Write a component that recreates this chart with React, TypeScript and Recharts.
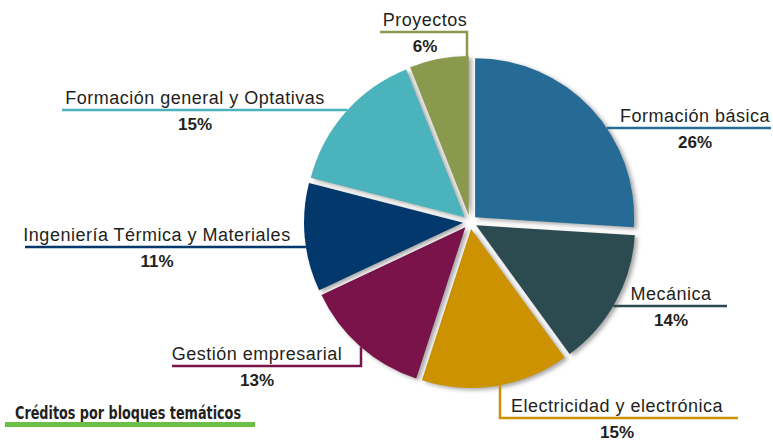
import React from "react";
import { PieChart, Pie, Cell } from "recharts";

const categories = [
  "Formación básica",
  "Mecánica",
  "Electricidad y electrónica",
  "Gestión empresarial",
  "Ingeniería Térmica y Materiales",
  "Formación general y Optativas",
  "Proyectos",
];
const shares = [26, 14, 15, 13, 11, 15, 6];
const colors = ["#266b95", "#2c4b51", "#cc9200", "#7a1349", "#02386c", "#4bb3bb", "#8b994e"];

const data = categories.map((name, i) => ({ name, value: shares[i] }));

const CX = 470;
const CY = 222;
const R = 159;
const EXPLODE = 7;
const RADIAN = Math.PI / 180;

// callout layout: "h" = straight horizontal leader, "v" = vertical then horizontal
const callouts: any[] = [
  { kind: "h", y: 128, end: 771, tx: 695 },
  { kind: "h", y: 306, end: 727, tx: 671 },
  { kind: "v", x: 500, y: 418, end: 738, tx: 617 },
  { kind: "v", x: 361, y: 366, end: 172, tx: 257 },
  { kind: "h", y: 247, end: 25, tx: 157 },
  { kind: "h", y: 110, end: 62, tx: 195 },
  { kind: "v", x: 467, y: 32, end: 380, tx: 425, top: true },
];

const total = shares.reduce((a, b) => a + b, 0);
const midAngles = shares.map((v, i) => {
  const before = shares.slice(0, i).reduce((a, b) => a + b, 0);
  return 90 - (360 * (before + v / 2)) / total;
});

const renderCallout = (slice: number) => (props: any) => {
  if (props.index !== slice) return null;
  const { cx, cy, outerRadius } = props;
  const c = callouts[slice];
  const color = colors[slice];
  let points = "";
  if (c.kind === "h") {
    const dx = Math.sqrt(Math.max(0, outerRadius * outerRadius - (c.y - cy) * (c.y - cy)));
    const x0 = c.end > cx ? cx + dx : cx - dx;
    points = `${x0},${c.y} ${c.end},${c.y}`;
  } else {
    const dy = Math.sqrt(Math.max(0, outerRadius * outerRadius - (c.x - cx) * (c.x - cx)));
    const y0 = c.top ? cy - dy : cy + dy;
    points = `${c.x},${y0} ${c.x},${c.y} ${c.end},${c.y}`;
  }
  return (
    <g>
      <polyline points={points} fill="none" stroke={color} strokeWidth={2.5} />
      <text
        x={c.tx}
        y={c.y - 6}
        textAnchor="middle"
        fontFamily="Liberation Sans, Arial, sans-serif"
        fontSize={18}
        letterSpacing={0.5}
        fill="#231f20"
      >
        {categories[slice]}
      </text>
      <text
        x={c.tx}
        y={c.y + 20}
        textAnchor="middle"
        fontFamily="Liberation Sans, Arial, sans-serif"
        fontSize={17}
        fontWeight="bold"
        fill="#231f20"
      >
        {shares[slice]}%
      </text>
    </g>
  );
};

export default function App() {
  return (
    <div style={{ position: "absolute", left: 0, top: 0, width: 773, height: 440, background: "#fff" }}>
      <style>{`.recharts-pie-sector path { filter: drop-shadow(3px 2px 2px rgba(0,0,0,0.35)); }`}</style>
      <PieChart width={773} height={440} margin={{ top: 0, right: 0, bottom: 0, left: 0 }}>
        {data.map((_, i) => (
          <Pie
            key={i}
            data={data}
            dataKey="value"
            nameKey="name"
            cx={CX + EXPLODE * Math.cos(midAngles[i] * RADIAN)}
            cy={CY - EXPLODE * Math.sin(midAngles[i] * RADIAN)}
            outerRadius={R}
            startAngle={90}
            endAngle={-270}
            stroke="none"
            labelLine={false}
            label={renderCallout(i)}
            isAnimationActive={false}
          >
            {data.map((d, j) => (
              <Cell key={d.name} fill={j === i ? colors[j] : "none"} />
            ))}
          </Pie>
        ))}
      </PieChart>
      <svg width={773} height={440} style={{ position: "absolute", left: 0, top: 0, pointerEvents: "none" }}>
        <text
          x={15}
          y={419}
          fontFamily="Liberation Sans Narrow, DejaVu Sans Condensed, Liberation Sans, sans-serif"
          fontSize={18}
          fontWeight="bold"
          fill="#231f20"
          textLength={226}
          lengthAdjust="spacingAndGlyphs"
        >
          Créditos por bloques temáticos
        </text>
        <rect x={5} y={422} width={250} height={5} fill="#6cbf45" />
      </svg>
    </div>
  );
}
